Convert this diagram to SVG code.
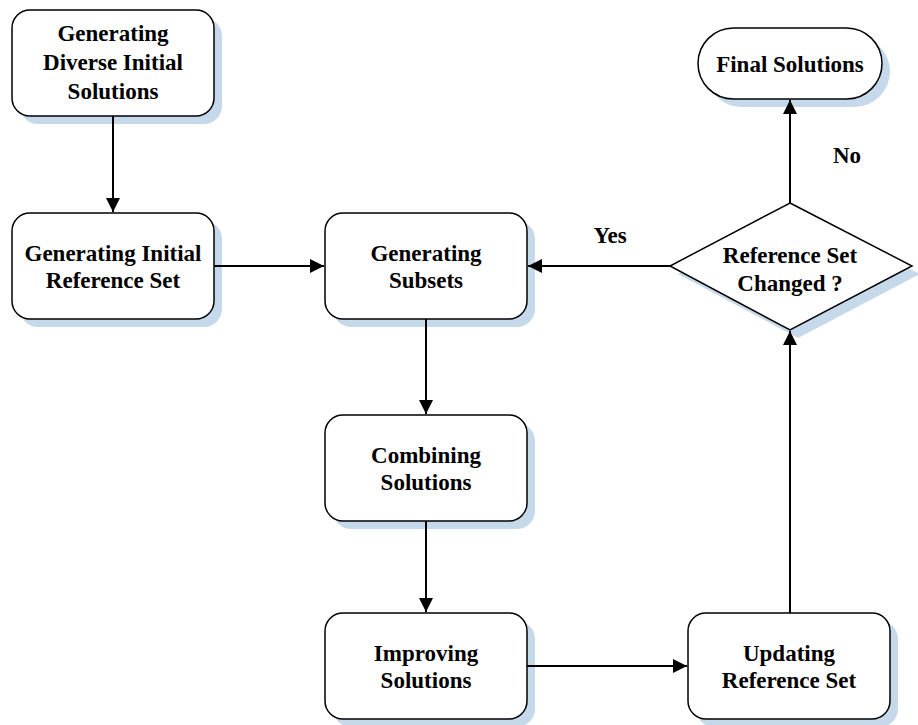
<svg xmlns="http://www.w3.org/2000/svg" width="918" height="725" viewBox="0 0 918 725">
<style>
.box{fill:#fff;stroke:#000;stroke-width:1.5}
.sh{fill:#c5d9eb;stroke:none}
.t{font-family:"Liberation Serif","Times New Roman",serif;font-weight:bold;font-size:23px;text-anchor:middle;fill:#000}
.c{stroke:#000;stroke-width:2;fill:none;marker-end:url(#ah)}
</style>
<defs>
<marker id="ah" viewBox="0 0 10 10" refX="10" refY="5" markerWidth="14" markerHeight="14" markerUnits="userSpaceOnUse" orient="auto">
<path d="M0,0 L10,5 L0,10 Z" fill="#000"/>
</marker>
</defs>
<rect width="918" height="725" fill="#fff"/>
<g id="n1">
<rect class="sh" x="20" y="18" width="202" height="106" rx="18"/>
<rect class="box" x="12" y="10" width="202" height="106" rx="18"/>
<text class="t" x="113" y="41">Generating</text>
<text class="t" x="113" y="70">Diverse Initial</text>
<text class="t" x="113" y="99">Solutions</text>
</g>
<g id="n2">
<rect class="sh" x="20" y="221" width="202" height="106" rx="18"/>
<rect class="box" x="12" y="213" width="202" height="106" rx="18"/>
<text class="t" x="113" y="261">Generating Initial</text>
<text class="t" x="113" y="288">Reference Set</text>
</g>
<g id="n3">
<rect class="sh" x="333" y="221" width="202" height="106" rx="18"/>
<rect class="box" x="325" y="213" width="202" height="106" rx="18"/>
<text class="t" x="426" y="261">Generating</text>
<text class="t" x="426" y="288">Subsets</text>
</g>
<g id="n4">
<rect class="sh" x="333" y="423" width="202" height="106" rx="18"/>
<rect class="box" x="325" y="415" width="202" height="106" rx="18"/>
<text class="t" x="426" y="463">Combining</text>
<text class="t" x="426" y="490">Solutions</text>
</g>
<g id="n5">
<rect class="sh" x="333" y="621" width="202" height="106" rx="18"/>
<rect class="box" x="325" y="613" width="202" height="106" rx="18"/>
<text class="t" x="426" y="661">Improving</text>
<text class="t" x="426" y="688">Solutions</text>
</g>
<g id="n6">
<rect class="sh" x="696" y="621" width="202" height="106" rx="18"/>
<rect class="box" x="688" y="613" width="202" height="106" rx="18"/>
<text class="t" x="789" y="661">Updating</text>
<text class="t" x="789" y="688">Reference Set</text>
</g>
<g id="n7">
<polygon class="sh" points="798,211 920,274 798,338 678,274"/>
<polygon class="box" points="790,203 912,266 790,330 670,266"/>
<text class="t" x="790" y="263">Reference Set</text>
<text class="t" x="790" y="291">Changed ?</text>
</g>
<g id="n8">
<rect class="sh" x="706" y="36" width="184" height="71" rx="35.5"/>
<rect class="box" x="698" y="28" width="184" height="71" rx="35.5"/>
<text class="t" x="790" y="72">Final Solutions</text>
</g>
<g id="connectors">
<line class="c" x1="113" y1="116" x2="113" y2="212"/>
<line class="c" x1="214" y1="266" x2="324" y2="266"/>
<line class="c" x1="670" y1="266" x2="528" y2="266"/>
<line class="c" x1="426" y1="319" x2="426" y2="414"/>
<line class="c" x1="426" y1="521" x2="426" y2="612"/>
<line class="c" x1="527" y1="666" x2="687" y2="666"/>
<line class="c" x1="790" y1="613" x2="790" y2="331"/>
<line class="c" x1="790" y1="203" x2="790" y2="100"/>
<text class="t" x="610" y="243">Yes</text>
<text class="t" x="847" y="163">No</text>
</g>
</svg>
